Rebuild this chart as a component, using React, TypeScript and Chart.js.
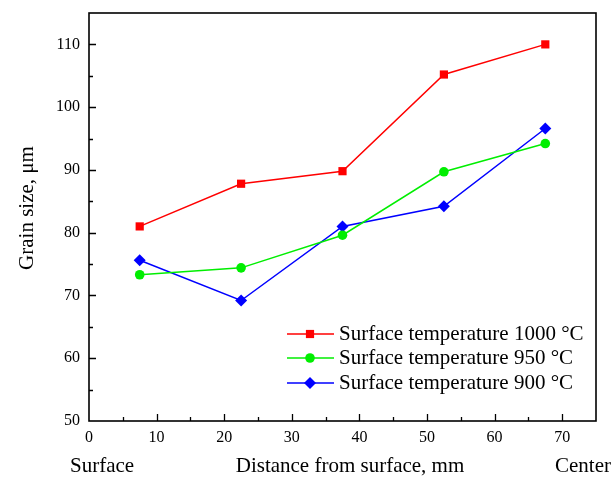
import React, { useEffect, useRef } from "react";
import { Chart, registerables } from "chart.js";
import { drawPoint } from "chart.js/helpers";

Chart.register(...registerables);

const distances = [7.5, 22.5, 37.5, 52.5, 67.5];
const grain1000 = [81.0, 87.8, 89.8, 105.2, 110.0];
const grain950 = [73.3, 74.4, 79.6, 89.7, 94.2];
const grain900 = [75.6, 69.2, 81.0, 84.2, 96.6];
const seriesLabels = [
  "Surface temperature 1000 \u00b0C",
  "Surface temperature 950 \u00b0C",
  "Surface temperature 900 \u00b0C",
];
const seriesColors = ["#ff0000", "#00ee00", "#0000ff"];
const seriesMarkers = ["rect", "circle", "rectRot"];
const markerRadius = [5.8, 4.8, 6];
const xTicks = [0, 10, 20, 30, 40, 50, 60, 70];
const yTicks = [50, 60, 70, 80, 90, 100, 110];
const xTitle = "Distance from surface, mm";
const yTitle = "Grain size, \u03bcm";
const leftNote = "Surface";
const rightNote = "Center";

const FONT = '"Liberation Serif", "Times New Roman", serif';

export default function App() {
  const ref = useRef<HTMLCanvasElement>(null);
  useEffect(() => {
    const canvas = ref.current;
    if (!canvas) return;
    const series = [grain1000, grain950, grain900];
    const datasets = series.map((vals, i) => ({
      label: seriesLabels[i],
      data: distances.map((d, j) => ({ x: d, y: vals[j] })),
      borderColor: seriesColors[i],
      backgroundColor: seriesColors[i],
      borderWidth: 1.5,
      pointStyle: seriesMarkers[i] as any,
      pointRadius: markerRadius[i],
      pointBorderWidth: 0,
      pointHoverRadius: markerRadius[i],
      fill: false,
      tension: 0,
    }));

    const decor = {
      id: "decor",
      afterDraw(chart: any) {
        const { ctx, chartArea } = chart;
        const { left, right, top, bottom } = chartArea;
        const xs = chart.scales.x;
        const ys = chart.scales.y;
        ctx.save();
        ctx.strokeStyle = "#000";
        ctx.lineWidth = 1.6;
        ctx.strokeRect(left, top, right - left, bottom - top);
        // inward ticks
        ctx.lineWidth = 1.3;
        ctx.beginPath();
        for (let v = 5; v < 75; v += 5) {
          const px = Math.round(xs.getPixelForValue(v)) + 0.5;
          const len = v % 10 === 0 ? 7 : 4;
          ctx.moveTo(px, bottom);
          ctx.lineTo(px, bottom - len);
        }
        for (let v = 55; v < 115; v += 5) {
          const py = Math.round(ys.getPixelForValue(v)) + 0.5;
          const len = v % 10 === 0 ? 7 : 4;
          ctx.moveTo(left, py);
          ctx.lineTo(left + len, py);
        }
        ctx.stroke();

        // titles
        ctx.fillStyle = "#000";
        ctx.font = `21px ${FONT}`;
        ctx.textBaseline = "middle";
        ctx.textAlign = "center";
        ctx.fillText(xTitle, 350, 466);
        ctx.textAlign = "left";
        ctx.fillText(leftNote, 70, 466);
        ctx.fillText(rightNote, 555, 466);
        ctx.save();
        ctx.translate(27, 208);
        ctx.rotate(-Math.PI / 2);
        ctx.textAlign = "center";
        ctx.fillText(yTitle, 0, 0);
        ctx.restore();

        // legend
        const rowY = [334, 358, 383];
        for (let i = 0; i < 3; i++) {
          const y = rowY[i];
          ctx.strokeStyle = seriesColors[i];
          ctx.lineWidth = 1.5;
          ctx.beginPath();
          ctx.moveTo(287, y);
          ctx.lineTo(334, y);
          ctx.stroke();
          ctx.fillStyle = seriesColors[i];
          (drawPoint as any)(
            ctx,
            { pointStyle: seriesMarkers[i], rotation: 0, borderWidth: 0, radius: markerRadius[i] },
            310,
            y
          );
          ctx.fillStyle = "#000";
          ctx.textAlign = "left";
          ctx.fillText(seriesLabels[i], 339, y);
        }
        ctx.restore();
      },
    };

    const chart = new Chart(canvas, {
      type: "line",
      data: { datasets: datasets as any },
      options: {
        responsive: false,
        animation: false,
        layout: { padding: { top: 13, right: 18, left: 0, bottom: 0 } },
        plugins: {
          legend: { display: false },
          tooltip: { enabled: false },
        },
        scales: {
          x: {
            type: "linear",
            min: 0,
            max: 75,
            grid: { display: false, drawTicks: false },
            border: { display: false },
            afterBuildTicks: (s: any) => {
              s.ticks = xTicks.map((v) => ({ value: v }));
            },
            afterFit: (s: any) => {
              s.height = 56;
              s.paddingLeft = 0;
              s.paddingRight = 0;
            },
            ticks: {
              padding: 7,
              color: "#000",
              font: { family: FONT, size: 16 },
              maxRotation: 0,
              autoSkip: false,
            },
          },
          y: {
            type: "linear",
            min: 50,
            max: 115,
            grid: { display: false, drawTicks: false },
            border: { display: false },
            afterBuildTicks: (s: any) => {
              s.ticks = yTicks.map((v) => ({ value: v }));
            },
            afterFit: (s: any) => {
              s.width = 89;
              s.paddingTop = 0;
              s.paddingBottom = 0;
            },
            ticks: {
              padding: 9,
              color: "#000",
              font: { family: FONT, size: 16 },
              autoSkip: false,
            },
          },
        },
      },
      plugins: [decor],
    });
    return () => chart.destroy();
  }, []);

  return (
    <div style={{ position: "fixed", left: 0, top: 0, width: 614, height: 477, background: "#fff" }}>
      <canvas ref={ref} width={614} height={477} style={{ width: 614, height: 477 }} />
    </div>
  );
}
